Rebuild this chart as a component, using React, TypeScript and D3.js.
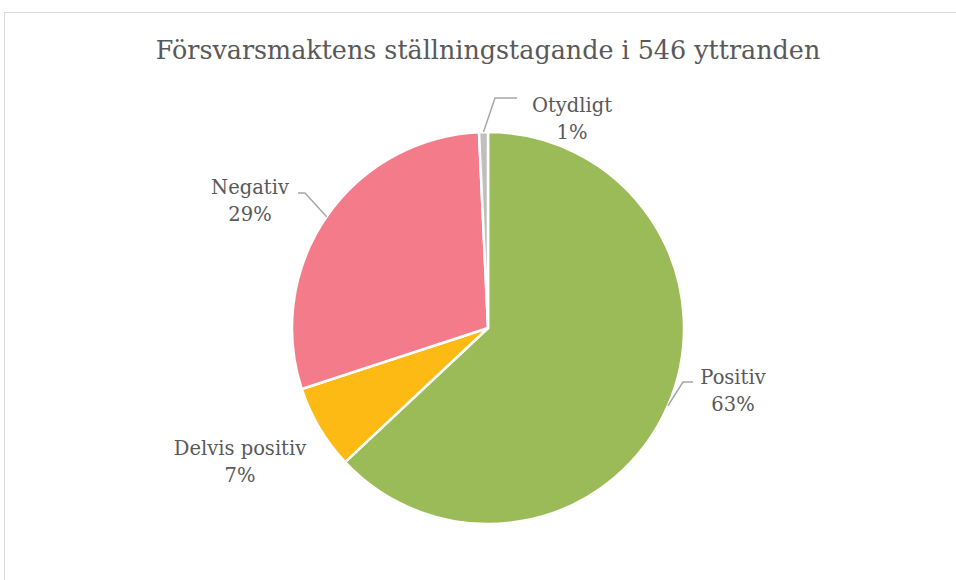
import React from "react";
import * as d3 from "d3";

const title = "Försvarsmaktens ställningstagande i 546 yttranden";
const categories = ["Positiv", "Delvis positiv", "Negativ", "Otydligt"];
const counts = [344, 38, 160, 4];
const colors = ["#9bbb59", "#fdb914", "#f47b8a", "#bfbfbf"];

// label placement relative to pie centre: [textX, textY, elbowX, elbowY, endX] (null = no leader)
const labelLayout: (number | null)[][] = [
  [245, 62, 195, 54, 205],
  [-248, 133, null, null, null],
  [-238, -128, -183, -135, -190],
  [84, -210, 7, -230, 29],
];

const W = 956;
const H = 580;
const cx = 488;
const cy = 328;
const radius = 196;
const font = "'DejaVu Serif', 'Liberation Serif', serif";
const textColor = "#595959";

export default function App() {
  const total = d3.sum(counts);
  const pie = d3.pie<number>().sort(null).value((d) => d)(counts);
  const arc = d3.arc<d3.PieArcDatum<number>>().innerRadius(0).outerRadius(radius);
  const fmt = (v: number) => Math.max(1, Math.round((v / total) * 100)) + "%";

  return (
    <div style={{ position: "fixed", left: 0, top: 0 }}>
      <svg width={W} height={H} style={{ display: "block", background: "#fff" }}>
        <rect x={4.5} y={12.5} width={W + 20} height={H + 20} fill="#fff" stroke="#d9d9d9" strokeWidth={1} />
        <text x={488} y={59} textAnchor="middle" fontFamily={font} fontSize={25.4} fill={textColor}>
          {title}
        </text>
        <g transform={`translate(${cx},${cy})`}>
          {pie.map((d, i) => (
            <path key={categories[i]} d={arc(d) || ""} fill={colors[i]} stroke="#fff" strokeWidth={2.5} strokeLinejoin="round" />
          ))}
          {pie.map((d, i) => {
            const [tx, ty, ex, ey, endX] = labelLayout[i];
            const mid = (d.startAngle + d.endAngle) / 2;
            const sx = Math.sin(mid) * radius;
            const sy = -Math.cos(mid) * radius;
            return (
              <g key={"l" + i}>
                {ex !== null && (
                  <polyline
                    points={`${sx},${sy} ${ex},${ey} ${endX},${ey}`}
                    fill="none"
                    stroke="#a6a6a6"
                    strokeWidth={1.5}
                  />
                )}
                <text textAnchor="middle" fontFamily={font} fontSize={19.5} fill={textColor}>
                  <tspan x={tx as number} y={(ty as number) - 6}>{categories[i]}</tspan>
                  <tspan x={tx as number} y={(ty as number) + 21}>{fmt(d.data)}</tspan>
                </text>
              </g>
            );
          })}
        </g>
      </svg>
    </div>
  );
}
